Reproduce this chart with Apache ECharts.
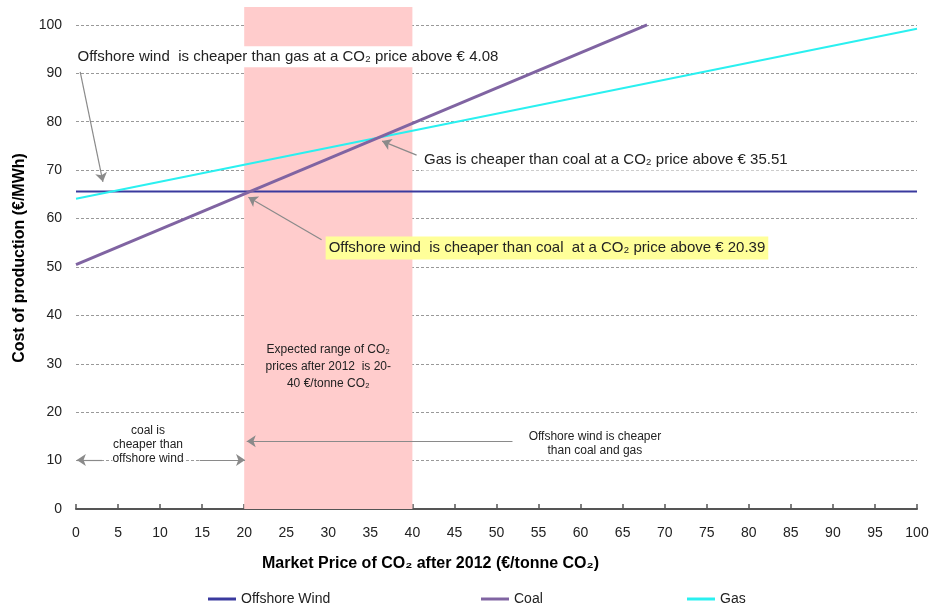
<!DOCTYPE html>
<html>
<head>
<meta charset="utf-8">
<script src="https://cdn.jsdelivr.net/npm/echarts@6/dist/echarts.min.js"></script>
<style>
  html, body { margin: 0; padding: 0; background: #fff; }
  #chart { width: 940px; height: 605px; }
</style>
</head>
<body>
<div id="chart"></div>
<script>
// data
const xTicks = [0, 100]
const windCost = [65.6, 65.6]
const gasCost = [64.1, 99.2]
const coalX = [0, 67.9]
const coalCost = [50.5, 100]
const co2Range = [20, 40]

const font = 'Liberation Sans, Arial, sans-serif'
const grey = '#8a8a8a'

const pairs = (xs, ys) => xs.map((x, i) => [x, ys[i]])

const arrow = (from, to) => [
  { coord: from, symbol: 'none' },
  { coord: to, symbol: 'arrow' }
]

const note = (coord, text, extra) => ({
  coord,
  symbol: 'circle',
  symbolSize: 0,
  label: Object.assign({
    show: true,
    position: 'inside',
    formatter: text,
    color: '#222',
    fontFamily: font,
    fontSize: 15
  }, extra || {})
})

const chart = echarts.init(document.getElementById('chart'))

chart.setOption({
  animation: false,
  textStyle: { fontFamily: font },
  grid: { left: 76, right: 23, top: 7, bottom: 96 },
  xAxis: {
    type: 'value',
    min: 0,
    max: 100,
    interval: 5,
    name: 'Market Price of CO₂ after 2012 (€/tonne CO₂)',
    nameLocation: 'middle',
    nameGap: 47,
    nameTextStyle: { fontSize: 16, fontWeight: 'bold', color: '#000', padding: [0, 132, 0, 0] },
    axisLine: { lineStyle: { color: '#555', width: 2 } },
    axisTick: { inside: true, length: 5, lineStyle: { color: '#555', width: 1.5 } },
    axisLabel: { fontSize: 14, color: '#222', margin: 17 },
    splitLine: { show: false }
  },
  yAxis: {
    type: 'value',
    min: 0,
    max: 103.7,
    interval: 10,
    name: 'Cost of production (€/MWh)',
    nameLocation: 'middle',
    nameRotate: 90,
    nameGap: 45,
    nameTextStyle: { fontSize: 16, fontWeight: 'bold', color: '#000' },
    axisLine: { show: false },
    axisTick: { show: false },
    axisLabel: {
      fontSize: 14,
      color: '#222',
      margin: 14,
      showMaxLabel: false,
      formatter: v => (v % 10 === 0 ? v : '')
    },
    splitLine: { showMaxLine: false, lineStyle: { type: [3, 2], color: '#999' } }
  },
  legend: [
    { data: ['Offshore Wind'], left: 203, top: 587 },
    { data: ['Coal'], left: 476, top: 587 },
    { data: ['Gas'], left: 682, top: 587 }
  ].map(l => Object.assign(l, {
    icon: 'rect',
    itemWidth: 28,
    itemHeight: 3,
    itemGap: 4,
    textStyle: { fontSize: 14, color: '#222', fontFamily: font }
  })),
  series: [
    {
      name: 'range',
      type: 'line',
      data: [],
      silent: true,
      markArea: {
        silent: true,
        itemStyle: { color: '#ffcccc' },
        data: [[{ coord: [co2Range[0], 0] }, { coord: [co2Range[1], 103.7] }]]
      }
    },
    {
      name: 'Offshore Wind',
      type: 'line',
      data: pairs(xTicks, windCost),
      showSymbol: false,
      lineStyle: { color: '#3a3a9e', width: 2 },
      itemStyle: { color: '#3a3a9e' },
      z: 3
    },
    {
      name: 'Coal',
      type: 'line',
      data: pairs(coalX, coalCost),
      showSymbol: false,
      lineStyle: { color: '#8064a2', width: 3 },
      itemStyle: { color: '#8064a2' },
      z: 4
    },
    {
      name: 'Gas',
      type: 'line',
      data: pairs(xTicks, gasCost),
      showSymbol: false,
      lineStyle: { color: '#2af0f0', width: 2 },
      itemStyle: { color: '#2af0f0' },
      z: 3
    },
    {
      name: 'notes',
      type: 'line',
      data: [],
      silent: true,
      z: 5,
      markLine: {
        silent: true,
        animation: false,
        symbolSize: 9,
        label: { show: false },
        lineStyle: { color: grey, width: 1.2, type: 'solid' },
        data: [
          arrow([0.5, 90.3], [3.2, 67.6]),
          arrow([40.5, 73.1], [36.4, 76.0]),
          arrow([29.2, 55.6], [20.5, 64.4]),
          arrow([51.9, 14.0], [20.3, 14.0]),
          arrow([3.1, 10.1], [0.1, 10.1]),
          arrow([14.7, 10.1], [20.1, 10.1])
        ]
      },
      markPoint: {
        silent: true,
        animation: false,
        data: [
          note([25.2, 93.4], 'Offshore wind  is cheaper than gas at a CO₂ price above € 4.08',
            { backgroundColor: '#fff', padding: [3, 2] }),
          note([63.0, 72.1], 'Gas is cheaper than coal at a CO₂ price above € 35.51',
            { backgroundColor: '#fff', padding: [3, 2] }),
          note([56.0, 53.9], 'Offshore wind  is cheaper than coal  at a CO₂ price above € 20.39',
            { backgroundColor: '#ffff99', padding: [4, 3] }),
          note([30, 29.5], 'Expected range of CO₂\nprices after 2012  is 20-\n40 €/tonne CO₂',
            { fontSize: 12, lineHeight: 17, align: 'center' }),
          note([8.56, 13.2], 'coal is\ncheaper than\noffshore wind',
            { fontSize: 12, lineHeight: 14, align: 'center', backgroundColor: '#fff' }),
          note([61.7, 13.4], 'Offshore wind is cheaper\nthan coal and gas',
            { fontSize: 12, lineHeight: 14, align: 'center' })
        ]
      }
    }
  ]
})
</script>
</body>
</html>
